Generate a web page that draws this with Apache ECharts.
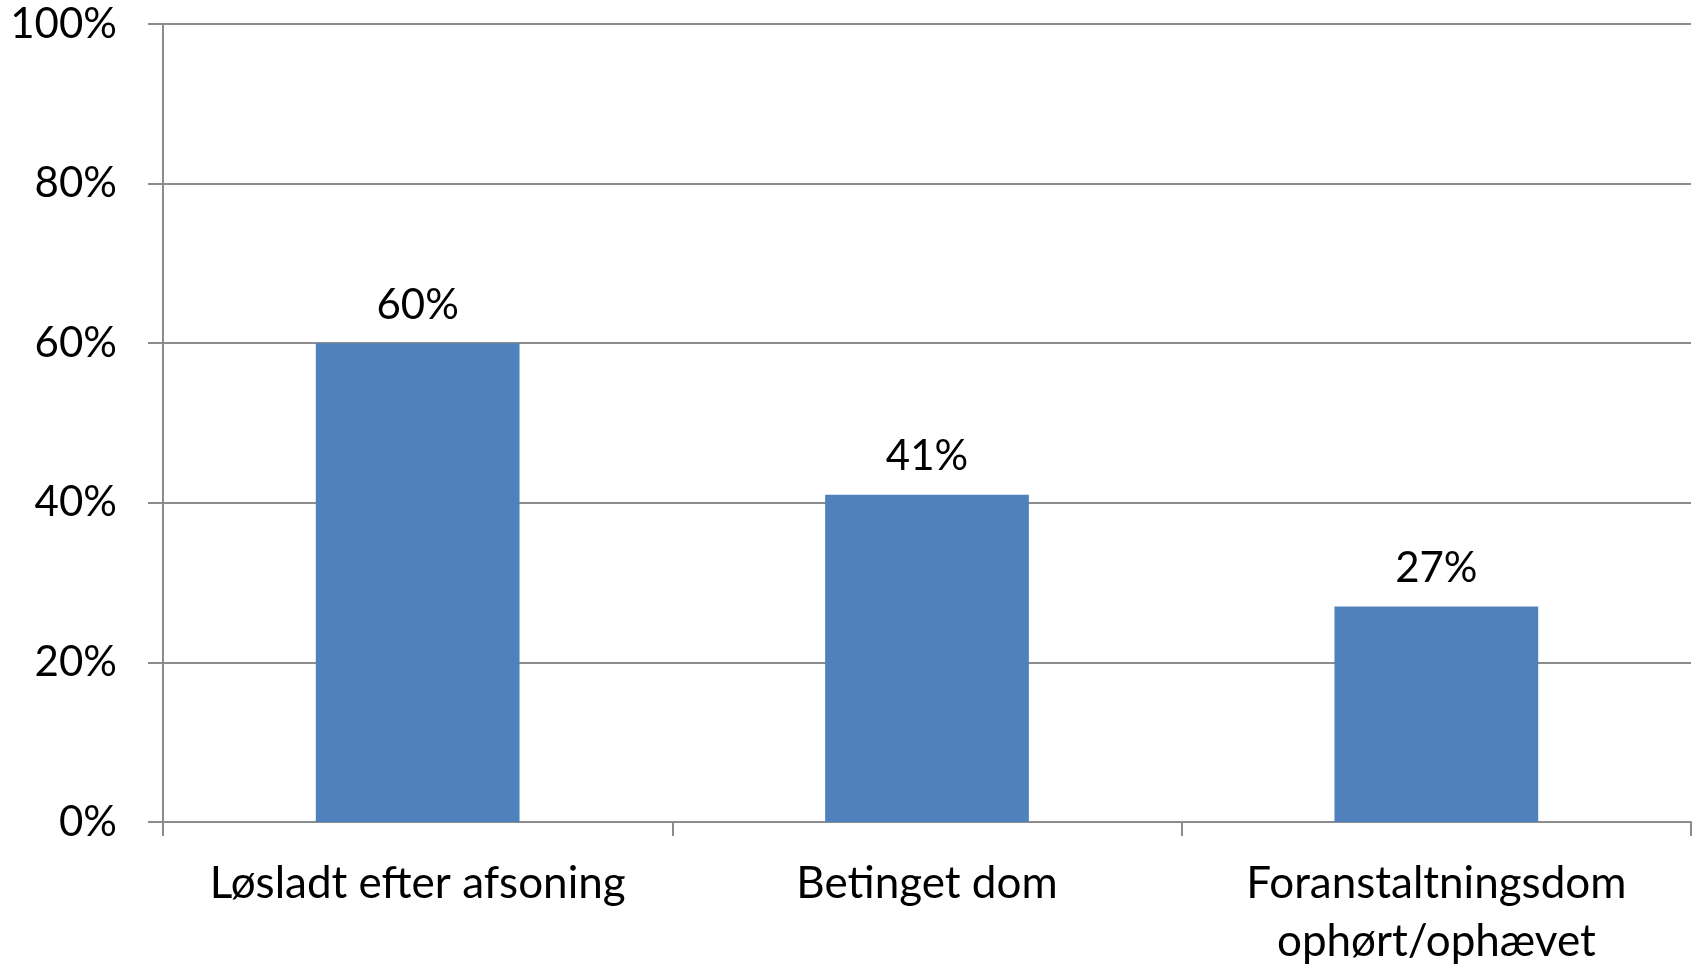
<!DOCTYPE html>
<html>
<head>
<meta charset="utf-8">
<script src="https://cdn.jsdelivr.net/npm/echarts@6/dist/echarts.min.js"></script>
<style>
html,body{margin:0;padding:0;background:#fff;}
#chart{width:1700px;height:967px;}
</style>
</head>
<body>
<div id="chart"></div>
<script>
const categories = ['Løsladt efter afsoning', 'Betinget dom', 'Foranstaltningsdom\nophørt/ophævet'];
const values = [60, 41, 27];
const yTicks = [0, 20, 40, 60, 80, 100];

const FONT = 'Lato';
const chart = echarts.init(document.getElementById('chart'));
chart.setOption({
  animation: false,
  backgroundColor: '#ffffff',
  grid: { left: 163, right: 9, top: 24, bottom: 145, containLabel: false, outerBoundsMode: 'none' },
  xAxis: {
    type: 'category',
    data: categories,
    axisLine: { show: true, lineStyle: { color: '#8c8c8c', width: 2 } },
    axisTick: { show: true, length: 14, lineStyle: { color: '#8c8c8c', width: 2 } },
    axisLabel: { color: '#000', fontFamily: FONT, fontSize: 44, lineHeight: 58, margin: 33, interval: 0 }
  },
  yAxis: {
    type: 'value',
    min: yTicks[0],
    max: yTicks[yTicks.length - 1],
    interval: 20,
    axisLine: { show: true, lineStyle: { color: '#8c8c8c', width: 2 } },
    axisTick: { show: true, length: 15, lineStyle: { color: '#8c8c8c', width: 2 } },
    splitLine: { show: true, lineStyle: { color: '#8c8c8c', width: 2 } },
    axisLabel: { color: '#000', fontFamily: FONT, fontSize: 42, margin: 46, formatter: '{value}%' }
  },
  series: [{
    type: 'bar',
    data: values,
    barCategoryGap: '60%',
    itemStyle: { color: '#4F81BD' },
    label: { show: true, position: 'top', distance: 17, color: '#000', fontFamily: FONT, fontSize: 42, formatter: '{c}%' }
  }]
});
</script>
</body>
</html>
